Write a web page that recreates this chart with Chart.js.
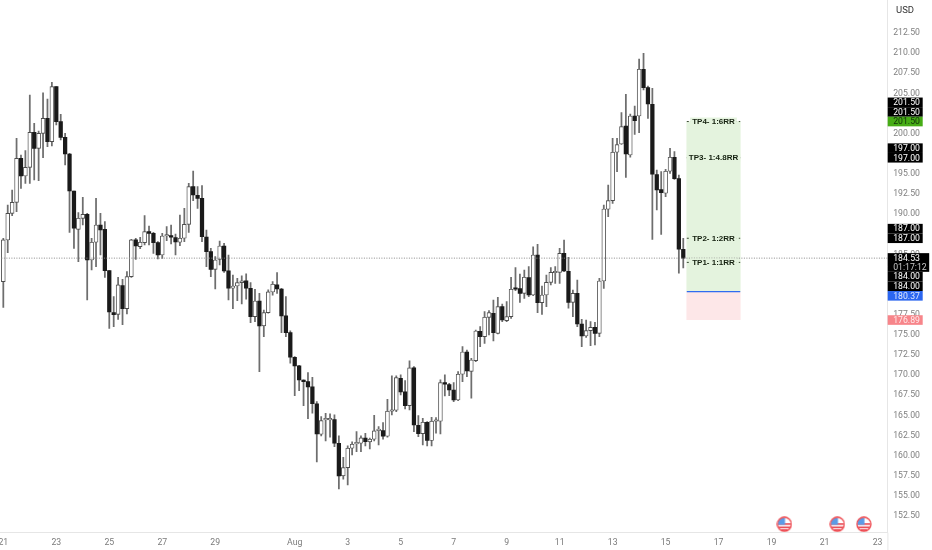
<!DOCTYPE html>
<html><head><meta charset="utf-8">
<style>html,body{margin:0;padding:0;background:#fff}canvas{display:block}</style>
<script src="https://cdn.jsdelivr.net/npm/chart.js@4"></script>
</head><body><canvas id="c" width="932" height="550"></canvas>
<script>
const opens=[181.61,186.79,190.1,191.46,196.93,194.73,195.81,200.16,198.17,200.03,201.9,199.0,205.83,201.48,199.54,197.47,192.87,188.11,189.48,189.97,184.3,186.5,188.65,188.11,182.98,177.76,177.55,181.11,178.26,182.23,186.79,185.96,186.46,187.82,187.61,186.46,184.92,187.28,187.32,187.08,186.5,187,188.73,193.41,192.33,191.96,187.16,185.34,183.14,184.38,186.04,182.94,
180.79,181.07,181.49,181.7,180.79,177.27,179.21,176.11,177.76,180.33,181.2,180.7,177.35,175.28,172.22,171.14,169.36,169.19,168.53,166.42,162.65,164.43,164.43,164.47,161.53,157.48,158.51,160.91,161.45,161.53,162.16,161.7,162.03,163.11,163.11,162.4,165.51,165.63,169.61,167.91,166.21,170.89,163.77,162.73,164.14,161.87,164.27,164.27,169.07,168.82,
168.15,166.91,170.1,172.87,170.47,171.8,175.44,174.78,177.18,177.67,175.19,178.5,176.76,177.26,180.74,180.74,180.16,182.1,179.95,184.92,179.0,179.95,181.52,182.72,182.77,185.13,182.89,179.04,180.16,176.35,174.86,175.52,175.93,175.19,181.69,
190.6,191.68,197.68,198.71,200.95,197.35,202.19,202.19,207.99,205.71,203.64,194.91,193.04,192.59,195.32,197.06,194.41,185.63];
const highs=[186.99,191.13,193.0,199.41,197.34,197.88,204.8,201.28,200.32,205.08,204.3,206.37,205.83,202.39,200.03,197.55,192.87,190.18,192.09,190.1,186.99,191.96,190.1,189.06,182.98,179.75,182.15,181.9,182.85,186.87,187,187.12,189.81,188.52,187.74,186.58,187.61,188.44,188.65,187.53,189.89,190.72,193.82,195.36,193.41,193.53,188.03,185.75,184.72,186.66,186.37,184.92,
182.44,182.03,182.32,182.57,181.49,180.66,180.16,178.09,180.58,181.61,182.73,180.79,179.75,175.49,172.3,171.22,169.4,170.31,169.73,166.71,164.85,165.26,165.18,165.05,162.45,159.79,161.2,161.7,162.98,162.45,162.78,162.16,165.01,163.6,164.1,167.0,169.9,169.9,170.02,169.32,171.76,171.06,164.97,164.64,164.22,164.76,164.72,169.4,170.02,168.99,
169.06,170.43,173.53,173.12,172.08,175.6,176.02,177.88,178.0,179.33,179.66,178.83,179.12,182.15,183.35,182.56,183.06,183.47,185.95,186.24,181.07,182.43,183.35,183.47,185.75,186.78,184.63,180.57,181.81,176.93,176.85,176.64,176.56,182.02,191.13,
193.62,199.42,199.42,202.6,204.88,202.44,203.43,209.27,209.97,205.92,205.63,195.48,195.28,195.57,198.17,197.76,194.86,186.99];
const lows=[178.42,185.21,189.81,190.3,193.2,193.82,193.82,194.24,194.16,197.01,198.38,198.46,201.07,199.21,196.1,187.74,185.75,184.09,188.65,179.33,183.06,183.47,184.92,182.15,175.81,176.02,176.93,176.27,177.6,182.15,184.38,185.71,186.17,186.17,185.13,184.43,184.51,186.7,186.29,184.92,186.08,186.58,187.74,191.67,190.72,186.58,183.47,182.23,180.7,183.68,182.77,179.34,
178.26,179.25,178.84,179.42,176.52,176.65,170.44,174.78,177.68,179.92,180.16,175.28,174.78,171.47,167.45,168.08,166.21,164.6,165.26,159.22,162.45,161.82,162.28,161.12,155.86,157.06,156.36,160.08,160.5,160.5,161.2,160.83,161.82,161.33,162.03,162.28,165.05,165.47,167.54,165.8,165.67,162.98,162.36,161.33,161.2,161.2,162.78,162.69,167.41,167.45,
166.7,166.83,169.19,169.81,167.12,171.67,173.53,173.95,174.98,174.26,175.11,176.64,176.64,177.05,180.49,179.04,179.54,179.74,179.87,177.76,177.55,178.5,181.19,181.4,181.4,182.85,178.3,177.26,176.02,173.53,174.69,173.66,173.74,174.78,180.78,
189.69,191.34,195.28,198.67,194.57,197.06,199.91,200.12,205.42,201.9,186.87,190.52,187.49,192.17,195.07,194.32,182.65,183.31];
const closes=[186.79,190.1,191.46,196.93,194.73,195.81,200.16,198.17,200.03,201.9,199.0,205.83,201.48,199.54,197.47,192.87,188.24,189.48,189.97,184.3,186.5,188.65,188.03,182.98,177.84,177.51,181.2,178.26,182.23,186.79,186.04,186.5,187.82,187.61,186.46,184.92,187.28,187.32,187.12,186.54,187,188.73,193.41,192.37,191.96,187.2,185.34,183.14,184.3,186.04,182.94,180.79,
181.07,181.49,181.7,180.79,177.27,179.21,176.11,177.76,180.33,181.28,180.7,177.35,175.28,172.22,171.14,169.4,169.19,168.53,166.46,162.69,164.35,164.47,164.47,161.53,157.48,158.51,160.91,161.41,161.53,162.2,161.74,162.03,163.07,163.15,162.4,165.51,165.63,169.69,167.91,166.21,170.89,163.81,162.73,164.14,161.87,164.27,164.31,169.07,168.86,168.16,
166.91,170.1,172.87,170.51,171.88,175.48,174.78,177.18,177.76,175.27,178.5,176.85,177.26,180.66,180.66,180.16,182.15,179.95,184.92,179.0,179.95,181.52,182.77,182.81,185.13,182.93,179.04,180.16,176.35,174.86,175.52,175.93,175.19,181.69,190.63,
191.68,197.68,198.63,200.87,197.47,202.19,201.61,207.99,205.71,203.68,194.95,193.0,192.67,195.32,197.06,194.41,185.63,184.53];
const dayTickBars=[0,12,24,36,48,66,78,90,102,114,126,138,150,162,174,186,198];
const dayTickLabels=['21','23','25','27','29','Aug','3','5','7','9','11','13','15','17','19','21','23'];
const priceTicks=[152.5,155,157.5,160,162.5,165,167.5,170,172.5,175,177.5,180,182.5,185,187.5,190,192.5,195,197.5,200,202.5,205,207.5,210,212.5];
const lastPrice=184.53, countdown='01:17:12';
const tpValues=[184,187,197,201.5];
const tpNames=['TP1- 1:1RR','TP2- 1:2RR','TP3- 1:4.8RR','TP4- 1:6RR'];
const entry=180.37, stopLoss=176.89, boxBars=[154.8,166.9];
const eventBars=[176.9,188.9,194.9];
const eventLevel=151.47;
const FONT='Roboto, "Liberation Sans", sans-serif';

function idx(a){return a.map((_,i)=>i);}
const allBars=idx(opens);
const wicks=allBars.map(i=>({x:i,y:[lows[i],highs[i]]}));
const upBodies=allBars.filter(i=>closes[i]>=opens[i]).map(i=>({x:i,y:[opens[i],closes[i]]}));
const downBodies=allBars.filter(i=>closes[i]<opens[i]).map(i=>({x:i,y:[closes[i],opens[i]]}));
const boxMid=(boxBars[0]+boxBars[1])/2;

const flag=document.createElement('canvas');flag.width=16;flag.height=16;
(function(){const g=flag.getContext('2d');
 g.save();g.beginPath();g.arc(8,8,6.6,0,7);g.clip();
 g.fillStyle='#fff';g.fillRect(0,0,16,16);
 g.fillStyle='#e8404a';g.fillRect(0,7,16,1.6);g.fillRect(0,10.4,16,1.6);g.fillRect(0,13,16,3);
 g.fillStyle='#5b9be6';g.fillRect(0,0,16,2);g.fillRect(0,2,8.6,6.6);
 g.restore();
 g.beginPath();g.arc(8,8,7,0,7);g.strokeStyle='#ee4a50';g.lineWidth=1.3;g.stroke();
})();

const badges=[
 {v:201.5,off:-19.2,t:'201.50',bg:'#000',fg:'#fff'},
 {v:201.5,off:-9.6,t:'201.50',bg:'#000',fg:'#fff'},
 {v:201.5,off:0,t:'201.50',bg:'#46ac16',fg:'#10300a'},
 {v:197,off:-9.6,t:'197.00',bg:'#000',fg:'#fff'},
 {v:197,off:0,t:'197.00',bg:'#000',fg:'#fff'},
 {v:187,off:-9.6,t:'187.00',bg:'#000',fg:'#fff'},
 {v:187,off:0,t:'187.00',bg:'#000',fg:'#fff'},
 {v:184,off:14.3,t:'184.00',bg:'#000',fg:'#fff'},
 {v:184,off:23.9,t:'184.00',bg:'#000',fg:'#fff'},
 {v:entry,off:4.2,t:'180.37',bg:'#2b66f0',fg:'#dfe8ff'},
 {v:stopLoss,off:0.4,t:'176.89',bg:'#f7858a',fg:'#ffe9ea'}
];

const overlay={id:'overlay',
 afterDatasetsDraw(ch){
  const g=ch.ctx,x=ch.scales.x,y=ch.scales.y;
  const cx=x.getPixelForValue(boxMid);
  g.save();g.textAlign='center';g.textBaseline='middle';
  g.font='bold 8px "Liberation Sans", sans-serif';
  tpValues.forEach((v,i)=>{
   const py=y.getPixelForValue(v),w=g.measureText(tpNames[i]).width+4;
   g.fillStyle='#e4f3de';g.fillRect(cx-w/2,py-4,w,8);
   g.fillStyle='#14200f';g.fillText(tpNames[i],cx,py+.5);
  });
  g.restore();
 },
 afterDraw(ch){
  const g=ch.ctx,y=ch.scales.y,L=ch.chartArea.right;
  g.save();
  g.strokeStyle='#e6e6e6';g.lineWidth=1;
  g.beginPath();g.moveTo(L+.2,ch.chartArea.bottom);g.lineTo(L+.2,550);g.stroke();
  g.textBaseline='middle';g.textAlign='left';
  g.font='9.5px '+FONT;
  g.fillStyle='#333';g.fillText('USD',896,10.5);
  g.font='8.7px '+FONT;
  const tx=L+5.5;
  badges.forEach(b=>{
   const c=y.getPixelForValue(b.v)+b.off;
   g.fillStyle=b.bg;g.fillRect(L,c-4.8,35,9.6);
   g.fillStyle=b.fg;g.fillText(b.t,tx,c+.6);
  });
  const c=y.getPixelForValue(lastPrice);
  g.fillStyle='#000';g.fillRect(L,c-5,41.5,18.7);
  g.fillStyle='#fff';g.fillText(lastPrice.toFixed(2),tx,c+.4);
  g.fillStyle='#c8c8c8';g.fillText(countdown,tx,c+9.4);
  g.restore();
 }
};

function noPad(s){
 s.paddingLeft=s.paddingRight=s.paddingTop=s.paddingBottom=0;
 if(s._margins){s._margins.left=s._margins.right=s._margins.top=s._margins.bottom=0;}
}

new Chart(document.getElementById('c'),{
 type:'bar',
 data:{datasets:[
  {label:'Target zone',data:[{x:boxMid,y:[entry,tpValues[3]]}],backgroundColor:'#e4f3de',barThickness:53.5,grouped:false,order:9,borderWidth:0},
  {label:'Stop zone',data:[{x:boxMid,y:[stopLoss,entry]}],backgroundColor:'#fde7e8',barThickness:53.5,grouped:false,order:9,borderWidth:0},
  {label:'Wick',data:wicks,backgroundColor:'#6e6e6e',barThickness:1.1,grouped:false,order:4,borderWidth:0},
  {label:'Up',data:upBodies,backgroundColor:'#fff',borderColor:'#4d4d4d',borderWidth:0.9,borderSkipped:false,barThickness:3.9,grouped:false,order:3,minBarLength:1.5},
  {label:'Down',data:downBodies,backgroundColor:'#1a1a1a',borderColor:'#1a1a1a',borderWidth:0,borderSkipped:false,barThickness:3.6,grouped:false,order:3,minBarLength:1.5},
  {type:'line',label:'Last',data:[{x:-1,y:lastPrice},{x:201,y:lastPrice}],borderColor:'#8a8a8a',borderWidth:1,borderDash:[1,1.5],pointRadius:0,order:2},
  {type:'line',label:'Entry',data:boxBars.map(b=>({x:b,y:entry})),borderColor:'#2f6bf0',borderWidth:1.3,pointRadius:0,order:2},
  ...tpValues.map(v=>({type:'line',label:'TP '+v,data:boxBars.map(b=>({x:b,y:v})),borderColor:'#3c4a36',borderWidth:1,borderDash:[2,2],pointRadius:0,order:2})),
  {type:'scatter',label:'Events',data:eventBars.map(b=>({x:b,y:eventLevel})),pointStyle:flag,order:1}
 ]},
 options:{
  responsive:false,animation:false,devicePixelRatio:1,
  layout:{padding:0,autoPadding:false},
  plugins:{legend:{display:false},tooltip:{enabled:false}},
  scales:{
   x:{type:'linear',position:'bottom',min:-0.75,max:200.3,offset:false,
    grid:{display:false,drawTicks:false},border:{display:true,color:'#e6e6e6'},
    afterBuildTicks(s){s.ticks=dayTickBars.map(v=>({value:v}));},
    afterFit(s){s.height=17.3;noPad(s);},
    ticks:{autoSkip:false,maxRotation:0,padding:5,color:'#7a7a7a',font:{family:FONT,size:8.7},
     callback(v){const i=dayTickBars.indexOf(v);return i<0?'':dayTickLabels[i];}}},
   y:{type:'linear',position:'right',min:150.42,max:216.6,
    grid:{display:false,drawTicks:false},border:{display:true,color:'#e6e6e6'},
    afterBuildTicks(s){s.ticks=priceTicks.map(v=>({value:v}));},
    afterFit(s){s.width=44.3;noPad(s);},
    ticks:{autoSkip:false,padding:5.5,color:'#7f7f7f',font:{family:FONT,size:8.7},
     callback(v){return Number(v).toFixed(2);}}}
  }
 },
 plugins:[overlay]
});
</script></body></html>
